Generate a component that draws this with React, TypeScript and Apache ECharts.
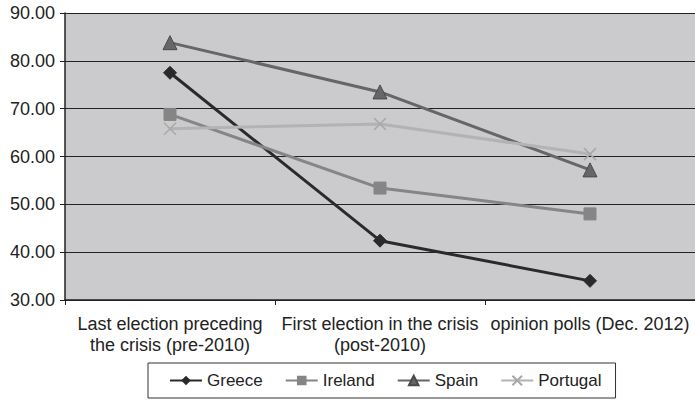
import React, { useEffect, useRef } from "react";
import * as echarts from "echarts";

const categories = [
  "Last election preceding\nthe crisis (pre-2010)",
  "First election in the crisis\n(post-2010)",
  "opinion polls (Dec. 2012)",
];
const greece = [77.5, 42.4, 34.0];
const ireland = [68.8, 53.4, 48.0];
const spain = [83.8, 73.5, 57.2];
const portugal = [65.8, 66.8, 60.5];
const yMin = 30;
const yMax = 90;
const yStep = 10;

export default function App() {
  const ref = useRef<HTMLDivElement>(null);
  useEffect(() => {
    if (!ref.current) return;
    const chart = echarts.init(ref.current, null, { renderer: "svg" });
    const font = "Liberation Sans, Arial, sans-serif";
    const mk = (name: string, data: number[], color: string, symbol: string, size: number, extra: any = {}) => ({
      name,
      type: "line",
      data,
      symbol,
      symbolSize: size,
      lineStyle: { color, width: 3 },
      itemStyle: { color, borderColor: color, ...extra },
      emphasis: { disabled: true },
    });
    chart.setOption({
      animation: false,
      backgroundColor: "#ffffff",
      textStyle: { fontFamily: font },
      grid: {
        left: 65,
        top: 13,
        width: 633,
        height: 287,
        show: true,
        backgroundColor: "#cbcbcd",
        borderWidth: 0,
      },
      xAxis: {
        type: "category",
        data: categories,
        boundaryGap: true,
        axisLine: { lineStyle: { color: "#222", width: 1.5 } },
        axisTick: { show: true, length: 5, lineStyle: { color: "#222" } },
        axisLabel: {
          color: "#222",
          fontSize: 18,
          fontFamily: font,
          lineHeight: 21,
          margin: 13,
          interval: 0,
        },
      },
      yAxis: {
        type: "value",
        min: yMin,
        max: yMax,
        interval: yStep,
        axisLine: { show: true, lineStyle: { color: "#222", width: 1.5 } },
        axisTick: { show: true, length: 5, lineStyle: { color: "#222" } },
        axisLabel: {
          color: "#222",
          fontSize: 18,
          fontFamily: font,
          margin: 10,
          formatter: (v: number) => v.toFixed(2),
        },
        splitLine: { show: true, lineStyle: { color: "#222", width: 1.2 } },
      },
      legend: {
        left: 148,
        top: 363,
        orient: "horizontal",
        padding: [9, 14, 9, 21],
        itemGap: 22,
        itemWidth: 32,
        itemHeight: 12,
        borderColor: "#333",
        borderWidth: 1,
        textStyle: { color: "#222", fontSize: 17, fontFamily: font },
        data: ["Greece", "Ireland", "Spain", "Portugal"],
      },
      series: [
        mk("Greece", greece, "#2a2a2a", "diamond", 13),
        mk("Ireland", ireland, "#858585", "rect", 12),
        mk("Spain", spain, "#666666", "triangle", 14, { borderColor: "#4a4a4a", borderWidth: 1 }),
        mk("Portugal", portugal, "#b3b3b3", "path://M0,0L10,10M10,0L0,10", 12, {
          color: "none",
          borderColor: "#a8a8a8",
          borderWidth: 1.5,
        }),
      ],
    });
    return () => chart.dispose();
  }, []);
  return (
    <div
      ref={ref}
      style={{ position: "fixed", left: 0, top: 0, width: 695, height: 403 }}
    />
  );
}
